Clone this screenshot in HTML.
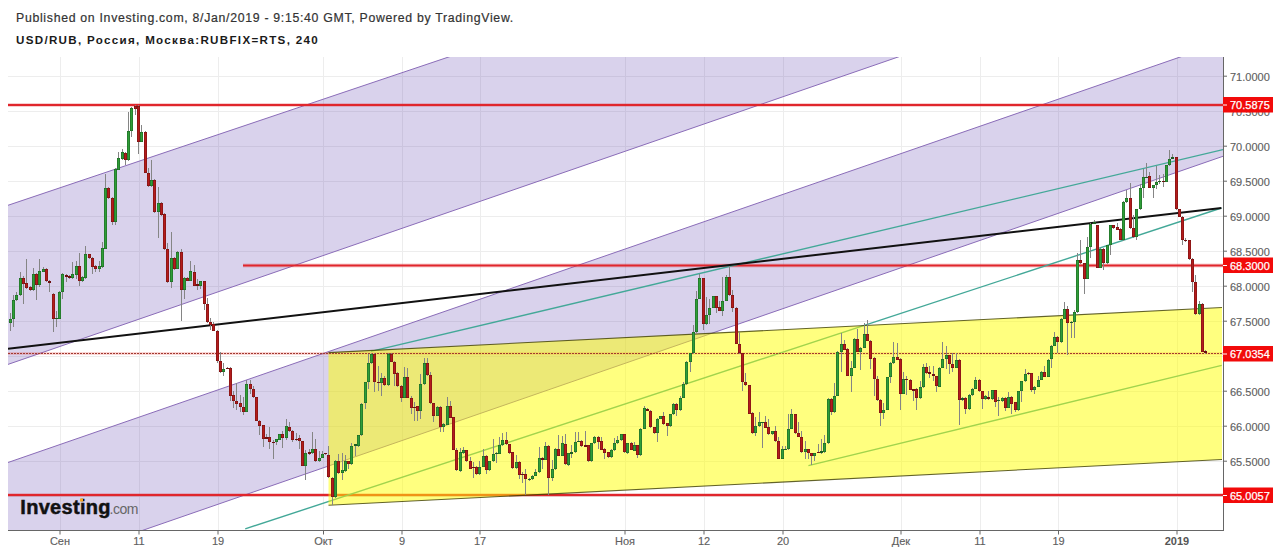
<!DOCTYPE html><html><head><meta charset="utf-8"><style>html,body{margin:0;padding:0;background:#fff;width:1280px;height:554px;overflow:hidden}svg{display:block}text{font-family:"Liberation Sans",sans-serif}</style></head><body>
<svg width="1280" height="554" viewBox="0 0 1280 554">
<rect width="1280" height="554" fill="#fff"/>
<text x="16" y="21.6" font-size="12.3" letter-spacing="0.69" fill="#333" stroke="#333" stroke-width="0.2">Published on Investing.com, 8/Jan/2019 - 9:15:40 GMT, Powered by TradingView.</text>
<text x="16" y="43.7" font-size="11.6" letter-spacing="1.31" font-weight="bold" fill="#1a1a1a">USD/RUB, Россия, Москва:RUBFIX=RTS, 240</text>
<defs><clipPath id="pc"><rect x="8" y="57" width="1215" height="473"/></clipPath></defs>
<g clip-path="url(#pc)">
<line x1="60.5" y1="57" x2="60.5" y2="530" stroke="#ededed" stroke-width="1"/>
<line x1="139.5" y1="57" x2="139.5" y2="530" stroke="#ededed" stroke-width="1"/>
<line x1="218.5" y1="57" x2="218.5" y2="530" stroke="#ededed" stroke-width="1"/>
<line x1="323.5" y1="57" x2="323.5" y2="530" stroke="#ededed" stroke-width="1"/>
<line x1="402.5" y1="57" x2="402.5" y2="530" stroke="#ededed" stroke-width="1"/>
<line x1="480.5" y1="57" x2="480.5" y2="530" stroke="#ededed" stroke-width="1"/>
<line x1="625.5" y1="57" x2="625.5" y2="530" stroke="#ededed" stroke-width="1"/>
<line x1="704.5" y1="57" x2="704.5" y2="530" stroke="#ededed" stroke-width="1"/>
<line x1="783.5" y1="57" x2="783.5" y2="530" stroke="#ededed" stroke-width="1"/>
<line x1="901.5" y1="57" x2="901.5" y2="530" stroke="#ededed" stroke-width="1"/>
<line x1="980.5" y1="57" x2="980.5" y2="530" stroke="#ededed" stroke-width="1"/>
<line x1="1058.5" y1="57" x2="1058.5" y2="530" stroke="#ededed" stroke-width="1"/>
<line x1="1177.5" y1="57" x2="1177.5" y2="530" stroke="#ededed" stroke-width="1"/>
<line x1="8" y1="76.5" x2="1223" y2="76.5" stroke="#ededed" stroke-width="1"/>
<line x1="8" y1="111.5" x2="1223" y2="111.5" stroke="#ededed" stroke-width="1"/>
<line x1="8" y1="146.5" x2="1223" y2="146.5" stroke="#ededed" stroke-width="1"/>
<line x1="8" y1="181.5" x2="1223" y2="181.5" stroke="#ededed" stroke-width="1"/>
<line x1="8" y1="216.5" x2="1223" y2="216.5" stroke="#ededed" stroke-width="1"/>
<line x1="8" y1="251.5" x2="1223" y2="251.5" stroke="#ededed" stroke-width="1"/>
<line x1="8" y1="286.5" x2="1223" y2="286.5" stroke="#ededed" stroke-width="1"/>
<line x1="8" y1="321.5" x2="1223" y2="321.5" stroke="#ededed" stroke-width="1"/>
<line x1="8" y1="356.5" x2="1223" y2="356.5" stroke="#ededed" stroke-width="1"/>
<line x1="8" y1="391.5" x2="1223" y2="391.5" stroke="#ededed" stroke-width="1"/>
<line x1="8" y1="426.5" x2="1223" y2="426.5" stroke="#ededed" stroke-width="1"/>
<line x1="8" y1="461.5" x2="1223" y2="461.5" stroke="#ededed" stroke-width="1"/>
<line x1="8" y1="496.5" x2="1223" y2="496.5" stroke="#ededed" stroke-width="1"/>
<polygon points="0.00,207.99 1280.00,-222.84 1280.00,-74.90 0.00,367.16" fill="rgba(102,76,178,0.25)"/>
<line x1="0" y1="207.99" x2="1280" y2="-222.84" stroke="#8a6cb8" stroke-width="1"/>
<line x1="0" y1="367.16" x2="1280" y2="-74.90" stroke="#8a6cb8" stroke-width="1"/>
<polygon points="0.00,465.27 1280.00,22.47 1280.00,136.54 0.00,579.75" fill="rgba(102,76,178,0.25)"/>
<line x1="0" y1="465.27" x2="1280" y2="22.47" stroke="#8a6cb8" stroke-width="1"/>
<line x1="0" y1="579.75" x2="1280" y2="136.54" stroke="#8a6cb8" stroke-width="1"/>
<line x1="8" y1="105" x2="1223" y2="105" stroke="rgba(224,38,44,0.22)" stroke-width="4"/>
<line x1="8" y1="105" x2="1223" y2="105" stroke="#e0262c" stroke-width="2"/>
<line x1="243" y1="265.5" x2="1223" y2="265.5" stroke="rgba(224,38,44,0.22)" stroke-width="4"/>
<line x1="243" y1="265.5" x2="1223" y2="265.5" stroke="#e0262c" stroke-width="2"/>
<line x1="8" y1="495" x2="1223" y2="495" stroke="rgba(224,38,44,0.22)" stroke-width="4"/>
<line x1="8" y1="495" x2="1223" y2="495" stroke="#e0262c" stroke-width="2"/>
<line x1="8" y1="353.5" x2="1223" y2="353.5" stroke="rgba(230,30,30,0.18)" stroke-width="3"/>
<line x1="371" y1="351.4" x2="1223" y2="149.6" stroke="#43a898" stroke-width="1.4"/>
<line x1="245.2" y1="528.9" x2="1221.4" y2="208" stroke="#43a898" stroke-width="1.4"/>
<line x1="808.4" y1="465.6" x2="1221.7" y2="365.4" stroke="#43a898" stroke-width="1.4"/>
<line x1="8" y1="348.7" x2="1221.4" y2="207.9" stroke="#111" stroke-width="2"/>
<polygon points="328.5,352.6 1222,307.5 1222,459.5 328.5,505.3" fill="rgba(255,255,0,0.5)"/>
<line x1="328.5" y1="352.6" x2="1222" y2="307.5" stroke="rgba(60,60,0,0.8)" stroke-width="1.1"/>
<line x1="328.5" y1="505.3" x2="1222" y2="459.5" stroke="rgba(60,60,0,0.8)" stroke-width="1.1"/>
<line x1="8" y1="353.5" x2="1223" y2="353.5" stroke="#a23a30" stroke-width="1" stroke-dasharray="2,1"/>
<g><rect x="10" y="313" width="1" height="18" fill="#858585"/><rect x="13" y="295" width="1" height="32" fill="#858585"/><rect x="16" y="292" width="1" height="9" fill="#858585"/><rect x="20" y="272" width="1" height="24" fill="#858585"/><rect x="23" y="276" width="1" height="28" fill="#858585"/><rect x="26" y="259" width="1" height="30" fill="#858585"/><rect x="30" y="286" width="1" height="5" fill="#858585"/><rect x="33" y="268" width="1" height="23" fill="#858585"/><rect x="36" y="273" width="1" height="27" fill="#858585"/><rect x="39" y="259" width="1" height="28" fill="#858585"/><rect x="43" y="267" width="1" height="5" fill="#858585"/><rect x="46" y="268" width="1" height="14" fill="#858585"/><rect x="49" y="280" width="1" height="12" fill="#858585"/><rect x="53" y="293" width="1" height="39" fill="#858585"/><rect x="56" y="311" width="1" height="16" fill="#858585"/><rect x="59" y="291" width="1" height="28" fill="#858585"/><rect x="62" y="273" width="1" height="26" fill="#858585"/><rect x="66" y="274" width="1" height="8" fill="#858585"/><rect x="69" y="275" width="1" height="4" fill="#858585"/><rect x="72" y="262" width="1" height="17" fill="#858585"/><rect x="76" y="261" width="1" height="18" fill="#858585"/><rect x="79" y="253" width="1" height="33" fill="#858585"/><rect x="82" y="276" width="1" height="6" fill="#858585"/><rect x="85" y="246" width="1" height="33" fill="#858585"/><rect x="89" y="254" width="1" height="5" fill="#858585"/><rect x="92" y="257" width="1" height="17" fill="#858585"/><rect x="95" y="265" width="1" height="7" fill="#858585"/><rect x="99" y="261" width="1" height="11" fill="#858585"/><rect x="102" y="242" width="1" height="26" fill="#858585"/><rect x="105" y="174" width="1" height="75" fill="#858585"/><rect x="108" y="187" width="1" height="12" fill="#858585"/><rect x="112" y="197" width="1" height="28" fill="#858585"/><rect x="115" y="168" width="1" height="57" fill="#858585"/><rect x="118" y="152" width="1" height="18" fill="#858585"/><rect x="122" y="149" width="1" height="11" fill="#858585"/><rect x="125" y="152" width="1" height="13" fill="#858585"/><rect x="128" y="112" width="1" height="49" fill="#858585"/><rect x="131" y="107" width="1" height="30" fill="#858585"/><rect x="135" y="105" width="1" height="10" fill="#858585"/><rect x="138" y="105" width="1" height="49" fill="#858585"/><rect x="141" y="125" width="1" height="17" fill="#858585"/><rect x="145" y="131" width="1" height="42" fill="#858585"/><rect x="148" y="168" width="1" height="19" fill="#858585"/><rect x="151" y="160" width="1" height="27" fill="#858585"/><rect x="154" y="179" width="1" height="34" fill="#858585"/><rect x="158" y="187" width="1" height="51" fill="#858585"/><rect x="161" y="202" width="1" height="14" fill="#858585"/><rect x="164" y="213" width="1" height="37" fill="#858585"/><rect x="167" y="243" width="1" height="40" fill="#858585"/><rect x="171" y="232" width="1" height="56" fill="#858585"/><rect x="174" y="257" width="1" height="13" fill="#858585"/><rect x="177" y="251" width="1" height="18" fill="#858585"/><rect x="181" y="249" width="1" height="72" fill="#858585"/><rect x="184" y="277" width="1" height="22" fill="#858585"/><rect x="187" y="277" width="1" height="4" fill="#858585"/><rect x="190" y="261" width="1" height="20" fill="#858585"/><rect x="194" y="265" width="1" height="21" fill="#858585"/><rect x="197" y="279" width="1" height="11" fill="#858585"/><rect x="200" y="281" width="1" height="8" fill="#858585"/><rect x="204" y="281" width="1" height="29" fill="#858585"/><rect x="207" y="298" width="1" height="25" fill="#858585"/><rect x="210" y="318" width="1" height="12" fill="#858585"/><rect x="213" y="322" width="1" height="9" fill="#858585"/><rect x="217" y="330" width="1" height="33" fill="#858585"/><rect x="220" y="352" width="1" height="21" fill="#858585"/><rect x="223" y="363" width="1" height="13" fill="#858585"/><rect x="227" y="367" width="1" height="2" fill="#858585"/><rect x="230" y="367" width="1" height="34" fill="#858585"/><rect x="233" y="391" width="1" height="17" fill="#858585"/><rect x="236" y="383" width="1" height="27" fill="#858585"/><rect x="240" y="395" width="1" height="17" fill="#858585"/><rect x="243" y="397" width="1" height="18" fill="#858585"/><rect x="246" y="380" width="1" height="32" fill="#858585"/><rect x="250" y="380" width="1" height="14" fill="#858585"/><rect x="253" y="386" width="1" height="12" fill="#858585"/><rect x="259" y="420" width="1" height="15" fill="#858585"/><rect x="263" y="425" width="1" height="22" fill="#858585"/><rect x="266" y="434" width="1" height="5" fill="#858585"/><rect x="269" y="427" width="1" height="22" fill="#858585"/><rect x="273" y="440" width="1" height="19" fill="#858585"/><rect x="276" y="439" width="1" height="6" fill="#858585"/><rect x="282" y="431" width="1" height="17" fill="#858585"/><rect x="286" y="419" width="1" height="21" fill="#858585"/><rect x="289" y="422" width="1" height="10" fill="#858585"/><rect x="292" y="430" width="1" height="12" fill="#858585"/><rect x="296" y="433" width="1" height="8" fill="#858585"/><rect x="299" y="435" width="1" height="14" fill="#858585"/><rect x="305" y="450" width="1" height="30" fill="#858585"/><rect x="309" y="449" width="1" height="6" fill="#858585"/><rect x="312" y="432" width="1" height="22" fill="#858585"/><rect x="315" y="439" width="1" height="23" fill="#858585"/><rect x="319" y="451" width="1" height="11" fill="#858585"/><rect x="322" y="451" width="1" height="7" fill="#858585"/><rect x="325" y="453" width="1" height="2" fill="#858585"/><rect x="328" y="446" width="1" height="32" fill="#858585"/><rect x="332" y="477" width="1" height="28" fill="#858585"/><rect x="335" y="460" width="1" height="38" fill="#858585"/><rect x="338" y="454" width="1" height="20" fill="#858585"/><rect x="342" y="453" width="1" height="27" fill="#858585"/><rect x="345" y="455" width="1" height="17" fill="#858585"/><rect x="348" y="461" width="1" height="8" fill="#858585"/><rect x="351" y="443" width="1" height="22" fill="#858585"/><rect x="355" y="444" width="1" height="12" fill="#858585"/><rect x="358" y="435" width="1" height="12" fill="#858585"/><rect x="361" y="403" width="1" height="33" fill="#858585"/><rect x="365" y="382" width="1" height="27" fill="#858585"/><rect x="368" y="354" width="1" height="35" fill="#858585"/><rect x="371" y="353" width="1" height="11" fill="#858585"/><rect x="374" y="353" width="1" height="39" fill="#858585"/><rect x="378" y="366" width="1" height="25" fill="#858585"/><rect x="381" y="373" width="1" height="23" fill="#858585"/><rect x="384" y="376" width="1" height="10" fill="#858585"/><rect x="388" y="353" width="1" height="33" fill="#858585"/><rect x="391" y="353" width="1" height="9" fill="#858585"/><rect x="394" y="361" width="1" height="25" fill="#858585"/><rect x="397" y="372" width="1" height="15" fill="#858585"/><rect x="401" y="385" width="1" height="17" fill="#858585"/><rect x="404" y="367" width="1" height="31" fill="#858585"/><rect x="407" y="368" width="1" height="30" fill="#858585"/><rect x="411" y="396" width="1" height="18" fill="#858585"/><rect x="414" y="402" width="1" height="19" fill="#858585"/><rect x="417" y="406" width="1" height="15" fill="#858585"/><rect x="420" y="374" width="1" height="45" fill="#858585"/><rect x="424" y="358" width="1" height="27" fill="#858585"/><rect x="427" y="358" width="1" height="18" fill="#858585"/><rect x="430" y="372" width="1" height="32" fill="#858585"/><rect x="433" y="403" width="1" height="19" fill="#858585"/><rect x="437" y="406" width="1" height="10" fill="#858585"/><rect x="440" y="406" width="1" height="26" fill="#858585"/><rect x="443" y="423" width="1" height="9" fill="#858585"/><rect x="447" y="397" width="1" height="28" fill="#858585"/><rect x="450" y="401" width="1" height="17" fill="#858585"/><rect x="456" y="448" width="1" height="23" fill="#858585"/><rect x="460" y="448" width="1" height="24" fill="#858585"/><rect x="463" y="447" width="1" height="7" fill="#858585"/><rect x="466" y="450" width="1" height="12" fill="#858585"/><rect x="470" y="457" width="1" height="12" fill="#858585"/><rect x="473" y="462" width="1" height="16" fill="#858585"/><rect x="476" y="466" width="1" height="9" fill="#858585"/><rect x="479" y="461" width="1" height="14" fill="#858585"/><rect x="483" y="449" width="1" height="18" fill="#858585"/><rect x="486" y="455" width="1" height="19" fill="#858585"/><rect x="489" y="461" width="1" height="10" fill="#858585"/><rect x="493" y="439" width="1" height="23" fill="#858585"/><rect x="496" y="452" width="1" height="11" fill="#858585"/><rect x="499" y="437" width="1" height="17" fill="#858585"/><rect x="502" y="433" width="1" height="13" fill="#858585"/><rect x="506" y="432" width="1" height="13" fill="#858585"/><rect x="509" y="444" width="1" height="10" fill="#858585"/><rect x="512" y="452" width="1" height="17" fill="#858585"/><rect x="516" y="455" width="1" height="14" fill="#858585"/><rect x="519" y="461" width="1" height="18" fill="#858585"/><rect x="522" y="472" width="1" height="11" fill="#858585"/><rect x="525" y="469" width="1" height="26" fill="#858585"/><rect x="529" y="478" width="1" height="3" fill="#858585"/><rect x="532" y="475" width="1" height="5" fill="#858585"/><rect x="535" y="469" width="1" height="7" fill="#858585"/><rect x="539" y="447" width="1" height="26" fill="#858585"/><rect x="542" y="457" width="1" height="12" fill="#858585"/><rect x="545" y="442" width="1" height="18" fill="#858585"/><rect x="548" y="445" width="1" height="50" fill="#858585"/><rect x="552" y="460" width="1" height="21" fill="#858585"/><rect x="555" y="448" width="1" height="22" fill="#858585"/><rect x="558" y="435" width="1" height="21" fill="#858585"/><rect x="562" y="436" width="1" height="20" fill="#858585"/><rect x="565" y="434" width="1" height="31" fill="#858585"/><rect x="568" y="453" width="1" height="13" fill="#858585"/><rect x="571" y="445" width="1" height="13" fill="#858585"/><rect x="575" y="432" width="1" height="21" fill="#858585"/><rect x="578" y="432" width="1" height="10" fill="#858585"/><rect x="581" y="440" width="1" height="7" fill="#858585"/><rect x="585" y="431" width="1" height="16" fill="#858585"/><rect x="588" y="445" width="1" height="17" fill="#858585"/><rect x="591" y="443" width="1" height="19" fill="#858585"/><rect x="594" y="436" width="1" height="8" fill="#858585"/><rect x="598" y="436" width="1" height="13" fill="#858585"/><rect x="601" y="437" width="1" height="13" fill="#858585"/><rect x="604" y="448" width="1" height="11" fill="#858585"/><rect x="608" y="452" width="1" height="6" fill="#858585"/><rect x="611" y="449" width="1" height="9" fill="#858585"/><rect x="614" y="438" width="1" height="13" fill="#858585"/><rect x="617" y="436" width="1" height="8" fill="#858585"/><rect x="621" y="434" width="1" height="7" fill="#858585"/><rect x="624" y="434" width="1" height="19" fill="#858585"/><rect x="627" y="443" width="1" height="11" fill="#858585"/><rect x="631" y="442" width="1" height="8" fill="#858585"/><rect x="634" y="442" width="1" height="9" fill="#858585"/><rect x="637" y="445" width="1" height="13" fill="#858585"/><rect x="640" y="428" width="1" height="28" fill="#858585"/><rect x="644" y="406" width="1" height="23" fill="#858585"/><rect x="647" y="408" width="1" height="3" fill="#858585"/><rect x="650" y="410" width="1" height="18" fill="#858585"/><rect x="654" y="427" width="1" height="7" fill="#858585"/><rect x="657" y="418" width="1" height="24" fill="#858585"/><rect x="663" y="412" width="1" height="13" fill="#858585"/><rect x="667" y="423" width="1" height="13" fill="#858585"/><rect x="670" y="414" width="1" height="13" fill="#858585"/><rect x="673" y="403" width="1" height="12" fill="#858585"/><rect x="676" y="403" width="1" height="13" fill="#858585"/><rect x="680" y="396" width="1" height="15" fill="#858585"/><rect x="683" y="382" width="1" height="16" fill="#858585"/><rect x="686" y="361" width="1" height="24" fill="#858585"/><rect x="690" y="353" width="1" height="19" fill="#858585"/><rect x="693" y="325" width="1" height="29" fill="#858585"/><rect x="696" y="291" width="1" height="42" fill="#858585"/><rect x="699" y="274" width="1" height="25" fill="#858585"/><rect x="703" y="278" width="1" height="52" fill="#858585"/><rect x="706" y="297" width="1" height="28" fill="#858585"/><rect x="709" y="299" width="1" height="25" fill="#858585"/><rect x="716" y="296" width="1" height="17" fill="#858585"/><rect x="719" y="301" width="1" height="10" fill="#858585"/><rect x="722" y="277" width="1" height="39" fill="#858585"/><rect x="726" y="275" width="1" height="26" fill="#858585"/><rect x="729" y="266" width="1" height="30" fill="#858585"/><rect x="732" y="290" width="1" height="22" fill="#858585"/><rect x="736" y="307" width="1" height="37" fill="#858585"/><rect x="739" y="332" width="1" height="22" fill="#858585"/><rect x="742" y="353" width="1" height="38" fill="#858585"/><rect x="745" y="373" width="1" height="13" fill="#858585"/><rect x="752" y="412" width="1" height="22" fill="#858585"/><rect x="755" y="417" width="1" height="19" fill="#858585"/><rect x="759" y="412" width="1" height="15" fill="#858585"/><rect x="762" y="422" width="1" height="26" fill="#858585"/><rect x="765" y="416" width="1" height="12" fill="#858585"/><rect x="768" y="419" width="1" height="16" fill="#858585"/><rect x="772" y="431" width="1" height="4" fill="#858585"/><rect x="775" y="426" width="1" height="16" fill="#858585"/><rect x="778" y="437" width="1" height="22" fill="#858585"/><rect x="782" y="446" width="1" height="13" fill="#858585"/><rect x="785" y="446" width="1" height="4" fill="#858585"/><rect x="788" y="414" width="1" height="36" fill="#858585"/><rect x="791" y="409" width="1" height="20" fill="#858585"/><rect x="795" y="414" width="1" height="20" fill="#858585"/><rect x="798" y="422" width="1" height="15" fill="#858585"/><rect x="801" y="431" width="1" height="22" fill="#858585"/><rect x="805" y="441" width="1" height="18" fill="#858585"/><rect x="808" y="449" width="1" height="10" fill="#858585"/><rect x="811" y="453" width="1" height="12" fill="#858585"/><rect x="814" y="453" width="1" height="8" fill="#858585"/><rect x="818" y="444" width="1" height="9" fill="#858585"/><rect x="821" y="439" width="1" height="15" fill="#858585"/><rect x="824" y="435" width="1" height="18" fill="#858585"/><rect x="828" y="398" width="1" height="46" fill="#858585"/><rect x="831" y="398" width="1" height="17" fill="#858585"/><rect x="834" y="383" width="1" height="30" fill="#858585"/><rect x="837" y="351" width="1" height="45" fill="#858585"/><rect x="841" y="333" width="1" height="39" fill="#858585"/><rect x="844" y="340" width="1" height="10" fill="#858585"/><rect x="847" y="348" width="1" height="28" fill="#858585"/><rect x="851" y="361" width="1" height="31" fill="#858585"/><rect x="854" y="338" width="1" height="30" fill="#858585"/><rect x="857" y="329" width="1" height="23" fill="#858585"/><rect x="860" y="347" width="1" height="23" fill="#858585"/><rect x="864" y="323" width="1" height="25" fill="#858585"/><rect x="867" y="320" width="1" height="21" fill="#858585"/><rect x="870" y="340" width="1" height="29" fill="#858585"/><rect x="874" y="357" width="1" height="39" fill="#858585"/><rect x="877" y="376" width="1" height="25" fill="#858585"/><rect x="880" y="399" width="1" height="27" fill="#858585"/><rect x="883" y="403" width="1" height="16" fill="#858585"/><rect x="890" y="362" width="1" height="21" fill="#858585"/><rect x="893" y="342" width="1" height="22" fill="#858585"/><rect x="897" y="343" width="1" height="17" fill="#858585"/><rect x="900" y="358" width="1" height="52" fill="#858585"/><rect x="903" y="372" width="1" height="22" fill="#858585"/><rect x="906" y="376" width="1" height="19" fill="#858585"/><rect x="910" y="379" width="1" height="11" fill="#858585"/><rect x="913" y="389" width="1" height="12" fill="#858585"/><rect x="916" y="388" width="1" height="22" fill="#858585"/><rect x="920" y="381" width="1" height="18" fill="#858585"/><rect x="923" y="364" width="1" height="24" fill="#858585"/><rect x="926" y="363" width="1" height="11" fill="#858585"/><rect x="929" y="366" width="1" height="12" fill="#858585"/><rect x="933" y="366" width="1" height="15" fill="#858585"/><rect x="936" y="376" width="1" height="16" fill="#858585"/><rect x="939" y="367" width="1" height="20" fill="#858585"/><rect x="942" y="342" width="1" height="26" fill="#858585"/><rect x="946" y="346" width="1" height="23" fill="#858585"/><rect x="949" y="355" width="1" height="19" fill="#858585"/><rect x="952" y="353" width="1" height="19" fill="#858585"/><rect x="956" y="353" width="1" height="15" fill="#858585"/><rect x="959" y="359" width="1" height="66" fill="#858585"/><rect x="962" y="397" width="1" height="4" fill="#858585"/><rect x="965" y="397" width="1" height="17" fill="#858585"/><rect x="969" y="394" width="1" height="16" fill="#858585"/><rect x="972" y="388" width="1" height="8" fill="#858585"/><rect x="975" y="377" width="1" height="12" fill="#858585"/><rect x="979" y="379" width="1" height="13" fill="#858585"/><rect x="982" y="391" width="1" height="18" fill="#858585"/><rect x="985" y="395" width="1" height="5" fill="#858585"/><rect x="988" y="391" width="1" height="9" fill="#858585"/><rect x="992" y="390" width="1" height="10" fill="#858585"/><rect x="995" y="390" width="1" height="17" fill="#858585"/><rect x="998" y="397" width="1" height="19" fill="#858585"/><rect x="1002" y="397" width="1" height="5" fill="#858585"/><rect x="1005" y="397" width="1" height="14" fill="#858585"/><rect x="1008" y="392" width="1" height="16" fill="#858585"/><rect x="1011" y="396" width="1" height="18" fill="#858585"/><rect x="1015" y="402" width="1" height="10" fill="#858585"/><rect x="1018" y="391" width="1" height="20" fill="#858585"/><rect x="1021" y="381" width="1" height="21" fill="#858585"/><rect x="1025" y="369" width="1" height="13" fill="#858585"/><rect x="1028" y="372" width="1" height="3" fill="#858585"/><rect x="1031" y="373" width="1" height="19" fill="#858585"/><rect x="1034" y="386" width="1" height="8" fill="#858585"/><rect x="1038" y="376" width="1" height="11" fill="#858585"/><rect x="1041" y="371" width="1" height="9" fill="#858585"/><rect x="1044" y="366" width="1" height="11" fill="#858585"/><rect x="1048" y="359" width="1" height="18" fill="#858585"/><rect x="1051" y="345" width="1" height="23" fill="#858585"/><rect x="1054" y="332" width="1" height="14" fill="#858585"/><rect x="1057" y="336" width="1" height="17" fill="#858585"/><rect x="1061" y="318" width="1" height="25" fill="#858585"/><rect x="1064" y="302" width="1" height="17" fill="#858585"/><rect x="1067" y="306" width="1" height="49" fill="#858585"/><rect x="1071" y="321" width="1" height="17" fill="#858585"/><rect x="1074" y="310" width="1" height="28" fill="#858585"/><rect x="1077" y="253" width="1" height="60" fill="#858585"/><rect x="1080" y="240" width="1" height="24" fill="#858585"/><rect x="1084" y="263" width="1" height="31" fill="#858585"/><rect x="1087" y="237" width="1" height="42" fill="#858585"/><rect x="1090" y="223" width="1" height="35" fill="#858585"/><rect x="1094" y="220" width="1" height="4" fill="#858585"/><rect x="1100" y="248" width="1" height="20" fill="#858585"/><rect x="1103" y="248" width="1" height="22" fill="#858585"/><rect x="1107" y="245" width="1" height="19" fill="#858585"/><rect x="1110" y="225" width="1" height="30" fill="#858585"/><rect x="1113" y="225" width="1" height="4" fill="#858585"/><rect x="1117" y="223" width="1" height="7" fill="#858585"/><rect x="1120" y="228" width="1" height="12" fill="#858585"/><rect x="1123" y="201" width="1" height="40" fill="#858585"/><rect x="1126" y="190" width="1" height="13" fill="#858585"/><rect x="1130" y="183" width="1" height="46" fill="#858585"/><rect x="1133" y="215" width="1" height="23" fill="#858585"/><rect x="1136" y="209" width="1" height="31" fill="#858585"/><rect x="1140" y="184" width="1" height="26" fill="#858585"/><rect x="1143" y="169" width="1" height="29" fill="#858585"/><rect x="1146" y="163" width="1" height="15" fill="#858585"/><rect x="1149" y="172" width="1" height="16" fill="#858585"/><rect x="1153" y="185" width="1" height="13" fill="#858585"/><rect x="1156" y="166" width="1" height="23" fill="#858585"/><rect x="1159" y="175" width="1" height="9" fill="#858585"/><rect x="1163" y="174" width="1" height="13" fill="#858585"/><rect x="1169" y="150" width="1" height="16" fill="#858585"/><rect x="1172" y="154" width="1" height="5" fill="#858585"/><rect x="1176" y="157" width="1" height="53" fill="#858585"/><rect x="1182" y="216" width="1" height="29" fill="#858585"/><rect x="1185" y="238" width="1" height="4" fill="#858585"/><rect x="1189" y="240" width="1" height="20" fill="#858585"/><rect x="1192" y="258" width="1" height="34" fill="#858585"/><rect x="1195" y="275" width="1" height="40" fill="#858585"/><rect x="1199" y="301" width="1" height="14" fill="#858585"/><rect x="1202" y="303" width="1" height="49" fill="#858585"/><rect x="1205" y="350" width="1" height="4" fill="#858585"/><rect x="9" y="319" width="3" height="4" fill="#1d5e22"/><rect x="9.5" y="319.5" width="2" height="3" fill="#2f9e38"/><rect x="12" y="300" width="3" height="19" fill="#1d5e22"/><rect x="12.5" y="300.5" width="2" height="18" fill="#2f9e38"/><rect x="15" y="295" width="3" height="5" fill="#1d5e22"/><rect x="15.5" y="295.5" width="2" height="4" fill="#2f9e38"/><rect x="19" y="278" width="3" height="17" fill="#1d5e22"/><rect x="19.5" y="278.5" width="2" height="16" fill="#2f9e38"/><rect x="22" y="278" width="3" height="6" fill="#6e1010"/><rect x="22.5" y="278.5" width="2" height="5" fill="#b41c1c"/><rect x="25" y="283" width="3" height="5" fill="#6e1010"/><rect x="25.5" y="283.5" width="2" height="4" fill="#b41c1c"/><rect x="29" y="287" width="3" height="3" fill="#6e1010"/><rect x="29.5" y="287.5" width="2" height="2" fill="#b41c1c"/><rect x="32" y="274" width="3" height="16" fill="#1d5e22"/><rect x="32.5" y="274.5" width="2" height="15" fill="#2f9e38"/><rect x="35" y="274" width="3" height="11" fill="#6e1010"/><rect x="35.5" y="274.5" width="2" height="10" fill="#b41c1c"/><rect x="38" y="271" width="3" height="14" fill="#1d5e22"/><rect x="38.5" y="271.5" width="2" height="13" fill="#2f9e38"/><rect x="42" y="269" width="3" height="3" fill="#1d5e22"/><rect x="42.5" y="269.5" width="2" height="2" fill="#2f9e38"/><rect x="45" y="269" width="3" height="12" fill="#6e1010"/><rect x="45.5" y="269.5" width="2" height="11" fill="#b41c1c"/><rect x="48" y="281" width="3" height="2" fill="#6e1010"/><rect x="52" y="294" width="3" height="25" fill="#6e1010"/><rect x="52.5" y="294.5" width="2" height="24" fill="#b41c1c"/><rect x="55" y="318" width="3" height="1" fill="#1d5e22"/><rect x="58" y="292" width="3" height="27" fill="#1d5e22"/><rect x="58.5" y="292.5" width="2" height="26" fill="#2f9e38"/><rect x="61" y="274" width="3" height="18" fill="#1d5e22"/><rect x="61.5" y="274.5" width="2" height="17" fill="#2f9e38"/><rect x="65" y="275" width="3" height="2" fill="#6e1010"/><rect x="68" y="276" width="3" height="2" fill="#6e1010"/><rect x="71" y="274" width="3" height="4" fill="#1d5e22"/><rect x="71.5" y="274.5" width="2" height="3" fill="#2f9e38"/><rect x="75" y="266" width="3" height="9" fill="#1d5e22"/><rect x="75.5" y="266.5" width="2" height="8" fill="#2f9e38"/><rect x="78" y="266" width="3" height="15" fill="#6e1010"/><rect x="78.5" y="266.5" width="2" height="14" fill="#b41c1c"/><rect x="81" y="277" width="3" height="4" fill="#1d5e22"/><rect x="81.5" y="277.5" width="2" height="3" fill="#2f9e38"/><rect x="84" y="254" width="3" height="24" fill="#1d5e22"/><rect x="84.5" y="254.5" width="2" height="23" fill="#2f9e38"/><rect x="88" y="254" width="3" height="4" fill="#6e1010"/><rect x="88.5" y="254.5" width="2" height="3" fill="#b41c1c"/><rect x="91" y="258" width="3" height="9" fill="#6e1010"/><rect x="91.5" y="258.5" width="2" height="8" fill="#b41c1c"/><rect x="94" y="266" width="3" height="3" fill="#6e1010"/><rect x="94.5" y="266.5" width="2" height="2" fill="#b41c1c"/><rect x="98" y="266" width="3" height="3" fill="#1d5e22"/><rect x="98.5" y="266.5" width="2" height="2" fill="#2f9e38"/><rect x="101" y="248" width="3" height="19" fill="#1d5e22"/><rect x="101.5" y="248.5" width="2" height="18" fill="#2f9e38"/><rect x="104" y="188" width="3" height="61" fill="#1d5e22"/><rect x="104.5" y="188.5" width="2" height="60" fill="#2f9e38"/><rect x="107" y="188" width="3" height="10" fill="#6e1010"/><rect x="107.5" y="188.5" width="2" height="9" fill="#b41c1c"/><rect x="111" y="198" width="3" height="24" fill="#6e1010"/><rect x="111.5" y="198.5" width="2" height="23" fill="#b41c1c"/><rect x="114" y="169" width="3" height="53" fill="#1d5e22"/><rect x="114.5" y="169.5" width="2" height="52" fill="#2f9e38"/><rect x="117" y="158" width="3" height="12" fill="#1d5e22"/><rect x="117.5" y="158.5" width="2" height="11" fill="#2f9e38"/><rect x="121" y="152" width="3" height="7" fill="#1d5e22"/><rect x="121.5" y="152.5" width="2" height="6" fill="#2f9e38"/><rect x="124" y="153" width="3" height="7" fill="#6e1010"/><rect x="124.5" y="153.5" width="2" height="6" fill="#b41c1c"/><rect x="127" y="131" width="3" height="29" fill="#1d5e22"/><rect x="127.5" y="131.5" width="2" height="28" fill="#2f9e38"/><rect x="130" y="108" width="3" height="23" fill="#1d5e22"/><rect x="130.5" y="108.5" width="2" height="22" fill="#2f9e38"/><rect x="134" y="106" width="3" height="3" fill="#6e1010"/><rect x="134.5" y="106.5" width="2" height="2" fill="#b41c1c"/><rect x="137" y="106" width="3" height="36" fill="#6e1010"/><rect x="137.5" y="106.5" width="2" height="35" fill="#b41c1c"/><rect x="140" y="132" width="3" height="10" fill="#1d5e22"/><rect x="140.5" y="132.5" width="2" height="9" fill="#2f9e38"/><rect x="144" y="132" width="3" height="41" fill="#6e1010"/><rect x="144.5" y="132.5" width="2" height="40" fill="#b41c1c"/><rect x="147" y="173" width="3" height="13" fill="#6e1010"/><rect x="147.5" y="173.5" width="2" height="12" fill="#b41c1c"/><rect x="150" y="180" width="3" height="6" fill="#1d5e22"/><rect x="150.5" y="180.5" width="2" height="5" fill="#2f9e38"/><rect x="153" y="180" width="3" height="32" fill="#6e1010"/><rect x="153.5" y="180.5" width="2" height="31" fill="#b41c1c"/><rect x="157" y="203" width="3" height="9" fill="#1d5e22"/><rect x="157.5" y="203.5" width="2" height="8" fill="#2f9e38"/><rect x="160" y="203" width="3" height="12" fill="#6e1010"/><rect x="160.5" y="203.5" width="2" height="11" fill="#b41c1c"/><rect x="163" y="214" width="3" height="35" fill="#6e1010"/><rect x="163.5" y="214.5" width="2" height="34" fill="#b41c1c"/><rect x="166" y="249" width="3" height="33" fill="#6e1010"/><rect x="166.5" y="249.5" width="2" height="32" fill="#b41c1c"/><rect x="170" y="258" width="3" height="24" fill="#1d5e22"/><rect x="170.5" y="258.5" width="2" height="23" fill="#2f9e38"/><rect x="173" y="258" width="3" height="11" fill="#6e1010"/><rect x="173.5" y="258.5" width="2" height="10" fill="#b41c1c"/><rect x="176" y="252" width="3" height="17" fill="#1d5e22"/><rect x="176.5" y="252.5" width="2" height="16" fill="#2f9e38"/><rect x="180" y="252" width="3" height="38" fill="#6e1010"/><rect x="180.5" y="252.5" width="2" height="37" fill="#b41c1c"/><rect x="183" y="278" width="3" height="12" fill="#1d5e22"/><rect x="183.5" y="278.5" width="2" height="11" fill="#2f9e38"/><rect x="186" y="278" width="3" height="3" fill="#6e1010"/><rect x="186.5" y="278.5" width="2" height="2" fill="#b41c1c"/><rect x="189" y="271" width="3" height="10" fill="#1d5e22"/><rect x="189.5" y="271.5" width="2" height="9" fill="#2f9e38"/><rect x="193" y="272" width="3" height="14" fill="#6e1010"/><rect x="193.5" y="272.5" width="2" height="13" fill="#b41c1c"/><rect x="196" y="284" width="3" height="2" fill="#6e1010"/><rect x="199" y="281" width="3" height="5" fill="#1d5e22"/><rect x="199.5" y="281.5" width="2" height="4" fill="#2f9e38"/><rect x="203" y="281" width="3" height="23" fill="#6e1010"/><rect x="203.5" y="281.5" width="2" height="22" fill="#b41c1c"/><rect x="206" y="304" width="3" height="18" fill="#6e1010"/><rect x="206.5" y="304.5" width="2" height="17" fill="#b41c1c"/><rect x="209" y="322" width="3" height="3" fill="#6e1010"/><rect x="209.5" y="322.5" width="2" height="2" fill="#b41c1c"/><rect x="212" y="324" width="3" height="7" fill="#6e1010"/><rect x="212.5" y="324.5" width="2" height="6" fill="#b41c1c"/><rect x="216" y="331" width="3" height="30" fill="#6e1010"/><rect x="216.5" y="331.5" width="2" height="29" fill="#b41c1c"/><rect x="219" y="361" width="3" height="11" fill="#6e1010"/><rect x="219.5" y="361.5" width="2" height="10" fill="#b41c1c"/><rect x="222" y="369" width="3" height="3" fill="#1d5e22"/><rect x="222.5" y="369.5" width="2" height="2" fill="#2f9e38"/><rect x="226" y="368" width="3" height="1" fill="#6e1010"/><rect x="229" y="368" width="3" height="28" fill="#6e1010"/><rect x="229.5" y="368.5" width="2" height="27" fill="#b41c1c"/><rect x="232" y="395" width="3" height="6" fill="#6e1010"/><rect x="232.5" y="395.5" width="2" height="5" fill="#b41c1c"/><rect x="235" y="401" width="3" height="3" fill="#6e1010"/><rect x="235.5" y="401.5" width="2" height="2" fill="#b41c1c"/><rect x="239" y="403" width="3" height="4" fill="#6e1010"/><rect x="239.5" y="403.5" width="2" height="3" fill="#b41c1c"/><rect x="242" y="407" width="3" height="5" fill="#6e1010"/><rect x="242.5" y="407.5" width="2" height="4" fill="#b41c1c"/><rect x="245" y="384" width="3" height="28" fill="#1d5e22"/><rect x="245.5" y="384.5" width="2" height="27" fill="#2f9e38"/><rect x="249" y="384" width="3" height="5" fill="#6e1010"/><rect x="249.5" y="384.5" width="2" height="4" fill="#b41c1c"/><rect x="252" y="389" width="3" height="8" fill="#6e1010"/><rect x="252.5" y="389.5" width="2" height="7" fill="#b41c1c"/><rect x="255" y="397" width="3" height="24" fill="#6e1010"/><rect x="255.5" y="397.5" width="2" height="23" fill="#b41c1c"/><rect x="258" y="421" width="3" height="5" fill="#6e1010"/><rect x="258.5" y="421.5" width="2" height="4" fill="#b41c1c"/><rect x="262" y="425" width="3" height="14" fill="#6e1010"/><rect x="262.5" y="425.5" width="2" height="13" fill="#b41c1c"/><rect x="265" y="437" width="3" height="2" fill="#6e1010"/><rect x="268" y="437" width="3" height="5" fill="#6e1010"/><rect x="268.5" y="437.5" width="2" height="4" fill="#b41c1c"/><rect x="272" y="442" width="3" height="1" fill="#6e1010"/><rect x="275" y="439" width="3" height="3" fill="#1d5e22"/><rect x="275.5" y="439.5" width="2" height="2" fill="#2f9e38"/><rect x="278" y="434" width="3" height="6" fill="#1d5e22"/><rect x="278.5" y="434.5" width="2" height="5" fill="#2f9e38"/><rect x="281" y="434" width="3" height="4" fill="#6e1010"/><rect x="281.5" y="434.5" width="2" height="3" fill="#b41c1c"/><rect x="285" y="426" width="3" height="12" fill="#1d5e22"/><rect x="285.5" y="426.5" width="2" height="11" fill="#2f9e38"/><rect x="288" y="427" width="3" height="4" fill="#6e1010"/><rect x="288.5" y="427.5" width="2" height="3" fill="#b41c1c"/><rect x="291" y="431" width="3" height="9" fill="#6e1010"/><rect x="291.5" y="431.5" width="2" height="8" fill="#b41c1c"/><rect x="295" y="439" width="3" height="1" fill="#6e1010"/><rect x="298" y="438" width="3" height="3" fill="#6e1010"/><rect x="298.5" y="438.5" width="2" height="2" fill="#b41c1c"/><rect x="301" y="441" width="3" height="25" fill="#6e1010"/><rect x="301.5" y="441.5" width="2" height="24" fill="#b41c1c"/><rect x="304" y="453" width="3" height="13" fill="#1d5e22"/><rect x="304.5" y="453.5" width="2" height="12" fill="#2f9e38"/><rect x="308" y="452" width="3" height="2" fill="#6e1010"/><rect x="311" y="449" width="3" height="4" fill="#1d5e22"/><rect x="311.5" y="449.5" width="2" height="3" fill="#2f9e38"/><rect x="314" y="449" width="3" height="12" fill="#6e1010"/><rect x="314.5" y="449.5" width="2" height="11" fill="#b41c1c"/><rect x="318" y="458" width="3" height="3" fill="#1d5e22"/><rect x="318.5" y="458.5" width="2" height="2" fill="#2f9e38"/><rect x="321" y="454" width="3" height="4" fill="#1d5e22"/><rect x="321.5" y="454.5" width="2" height="3" fill="#2f9e38"/><rect x="324" y="453" width="3" height="1" fill="#6e1010"/><rect x="327" y="455" width="3" height="22" fill="#6e1010"/><rect x="327.5" y="455.5" width="2" height="21" fill="#b41c1c"/><rect x="331" y="478" width="3" height="19" fill="#6e1010"/><rect x="331.5" y="478.5" width="2" height="18" fill="#b41c1c"/><rect x="334" y="461" width="3" height="36" fill="#1d5e22"/><rect x="334.5" y="461.5" width="2" height="35" fill="#2f9e38"/><rect x="337" y="461" width="3" height="12" fill="#6e1010"/><rect x="337.5" y="461.5" width="2" height="11" fill="#b41c1c"/><rect x="341" y="470" width="3" height="3" fill="#1d5e22"/><rect x="341.5" y="470.5" width="2" height="2" fill="#2f9e38"/><rect x="344" y="461" width="3" height="10" fill="#1d5e22"/><rect x="344.5" y="461.5" width="2" height="9" fill="#2f9e38"/><rect x="347" y="461" width="3" height="3" fill="#6e1010"/><rect x="347.5" y="461.5" width="2" height="2" fill="#b41c1c"/><rect x="350" y="446" width="3" height="18" fill="#1d5e22"/><rect x="350.5" y="446.5" width="2" height="17" fill="#2f9e38"/><rect x="354" y="444" width="3" height="2" fill="#1d5e22"/><rect x="357" y="435" width="3" height="11" fill="#1d5e22"/><rect x="357.5" y="435.5" width="2" height="10" fill="#2f9e38"/><rect x="360" y="404" width="3" height="31" fill="#1d5e22"/><rect x="360.5" y="404.5" width="2" height="30" fill="#2f9e38"/><rect x="364" y="382" width="3" height="21" fill="#1d5e22"/><rect x="364.5" y="382.5" width="2" height="20" fill="#2f9e38"/><rect x="367" y="363" width="3" height="19" fill="#1d5e22"/><rect x="367.5" y="363.5" width="2" height="18" fill="#2f9e38"/><rect x="370" y="354" width="3" height="9" fill="#1d5e22"/><rect x="370.5" y="354.5" width="2" height="8" fill="#2f9e38"/><rect x="373" y="354" width="3" height="28" fill="#6e1010"/><rect x="373.5" y="354.5" width="2" height="27" fill="#b41c1c"/><rect x="377" y="382" width="3" height="1" fill="#6e1010"/><rect x="380" y="378" width="3" height="5" fill="#1d5e22"/><rect x="380.5" y="378.5" width="2" height="4" fill="#2f9e38"/><rect x="383" y="378" width="3" height="7" fill="#6e1010"/><rect x="383.5" y="378.5" width="2" height="6" fill="#b41c1c"/><rect x="387" y="354" width="3" height="31" fill="#1d5e22"/><rect x="387.5" y="354.5" width="2" height="30" fill="#2f9e38"/><rect x="390" y="354" width="3" height="8" fill="#6e1010"/><rect x="390.5" y="354.5" width="2" height="7" fill="#b41c1c"/><rect x="393" y="362" width="3" height="12" fill="#6e1010"/><rect x="393.5" y="362.5" width="2" height="11" fill="#b41c1c"/><rect x="396" y="373" width="3" height="13" fill="#6e1010"/><rect x="396.5" y="373.5" width="2" height="12" fill="#b41c1c"/><rect x="400" y="386" width="3" height="12" fill="#6e1010"/><rect x="400.5" y="386.5" width="2" height="11" fill="#b41c1c"/><rect x="403" y="377" width="3" height="21" fill="#1d5e22"/><rect x="403.5" y="377.5" width="2" height="20" fill="#2f9e38"/><rect x="406" y="377" width="3" height="21" fill="#6e1010"/><rect x="406.5" y="377.5" width="2" height="20" fill="#b41c1c"/><rect x="410" y="398" width="3" height="10" fill="#6e1010"/><rect x="410.5" y="398.5" width="2" height="9" fill="#b41c1c"/><rect x="413" y="407" width="3" height="1" fill="#6e1010"/><rect x="416" y="406" width="3" height="5" fill="#6e1010"/><rect x="416.5" y="406.5" width="2" height="4" fill="#b41c1c"/><rect x="419" y="384" width="3" height="27" fill="#1d5e22"/><rect x="419.5" y="384.5" width="2" height="26" fill="#2f9e38"/><rect x="423" y="363" width="3" height="21" fill="#1d5e22"/><rect x="423.5" y="363.5" width="2" height="20" fill="#2f9e38"/><rect x="426" y="363" width="3" height="12" fill="#6e1010"/><rect x="426.5" y="363.5" width="2" height="11" fill="#b41c1c"/><rect x="429" y="375" width="3" height="28" fill="#6e1010"/><rect x="429.5" y="375.5" width="2" height="27" fill="#b41c1c"/><rect x="432" y="403" width="3" height="13" fill="#6e1010"/><rect x="432.5" y="403.5" width="2" height="12" fill="#b41c1c"/><rect x="436" y="407" width="3" height="9" fill="#1d5e22"/><rect x="436.5" y="407.5" width="2" height="8" fill="#2f9e38"/><rect x="439" y="407" width="3" height="20" fill="#6e1010"/><rect x="439.5" y="407.5" width="2" height="19" fill="#b41c1c"/><rect x="442" y="424" width="3" height="3" fill="#1d5e22"/><rect x="442.5" y="424.5" width="2" height="2" fill="#2f9e38"/><rect x="446" y="406" width="3" height="19" fill="#1d5e22"/><rect x="446.5" y="406.5" width="2" height="18" fill="#2f9e38"/><rect x="449" y="406" width="3" height="12" fill="#6e1010"/><rect x="449.5" y="406.5" width="2" height="11" fill="#b41c1c"/><rect x="452" y="417" width="3" height="33" fill="#6e1010"/><rect x="452.5" y="417.5" width="2" height="32" fill="#b41c1c"/><rect x="455" y="450" width="3" height="20" fill="#6e1010"/><rect x="455.5" y="450.5" width="2" height="19" fill="#b41c1c"/><rect x="459" y="452" width="3" height="19" fill="#1d5e22"/><rect x="459.5" y="452.5" width="2" height="18" fill="#2f9e38"/><rect x="462" y="450" width="3" height="3" fill="#1d5e22"/><rect x="462.5" y="450.5" width="2" height="2" fill="#2f9e38"/><rect x="465" y="450" width="3" height="11" fill="#6e1010"/><rect x="465.5" y="450.5" width="2" height="10" fill="#b41c1c"/><rect x="469" y="461" width="3" height="8" fill="#6e1010"/><rect x="469.5" y="461.5" width="2" height="7" fill="#b41c1c"/><rect x="472" y="467" width="3" height="1" fill="#6e1010"/><rect x="475" y="467" width="3" height="7" fill="#6e1010"/><rect x="475.5" y="467.5" width="2" height="6" fill="#b41c1c"/><rect x="478" y="467" width="3" height="7" fill="#1d5e22"/><rect x="478.5" y="467.5" width="2" height="6" fill="#2f9e38"/><rect x="482" y="456" width="3" height="11" fill="#1d5e22"/><rect x="482.5" y="456.5" width="2" height="10" fill="#2f9e38"/><rect x="485" y="456" width="3" height="14" fill="#6e1010"/><rect x="485.5" y="456.5" width="2" height="13" fill="#b41c1c"/><rect x="488" y="461" width="3" height="9" fill="#1d5e22"/><rect x="488.5" y="461.5" width="2" height="8" fill="#2f9e38"/><rect x="492" y="454" width="3" height="7" fill="#1d5e22"/><rect x="492.5" y="454.5" width="2" height="6" fill="#2f9e38"/><rect x="495" y="453" width="3" height="1" fill="#1d5e22"/><rect x="498" y="445" width="3" height="9" fill="#1d5e22"/><rect x="498.5" y="445.5" width="2" height="8" fill="#2f9e38"/><rect x="501" y="440" width="3" height="5" fill="#1d5e22"/><rect x="501.5" y="440.5" width="2" height="4" fill="#2f9e38"/><rect x="505" y="440" width="3" height="4" fill="#6e1010"/><rect x="505.5" y="440.5" width="2" height="3" fill="#b41c1c"/><rect x="508" y="444" width="3" height="9" fill="#6e1010"/><rect x="508.5" y="444.5" width="2" height="8" fill="#b41c1c"/><rect x="511" y="452" width="3" height="16" fill="#6e1010"/><rect x="511.5" y="452.5" width="2" height="15" fill="#b41c1c"/><rect x="515" y="462" width="3" height="6" fill="#1d5e22"/><rect x="515.5" y="462.5" width="2" height="5" fill="#2f9e38"/><rect x="518" y="462" width="3" height="13" fill="#6e1010"/><rect x="518.5" y="462.5" width="2" height="12" fill="#b41c1c"/><rect x="521" y="474" width="3" height="1" fill="#6e1010"/><rect x="524" y="474" width="3" height="5" fill="#6e1010"/><rect x="524.5" y="474.5" width="2" height="4" fill="#b41c1c"/><rect x="528" y="479" width="3" height="1" fill="#1d5e22"/><rect x="531" y="476" width="3" height="3" fill="#1d5e22"/><rect x="531.5" y="476.5" width="2" height="2" fill="#2f9e38"/><rect x="534" y="472" width="3" height="4" fill="#1d5e22"/><rect x="534.5" y="472.5" width="2" height="3" fill="#2f9e38"/><rect x="538" y="458" width="3" height="14" fill="#1d5e22"/><rect x="538.5" y="458.5" width="2" height="13" fill="#2f9e38"/><rect x="541" y="458" width="3" height="2" fill="#6e1010"/><rect x="544" y="446" width="3" height="14" fill="#1d5e22"/><rect x="544.5" y="446.5" width="2" height="13" fill="#2f9e38"/><rect x="547" y="446" width="3" height="32" fill="#6e1010"/><rect x="547.5" y="446.5" width="2" height="31" fill="#b41c1c"/><rect x="551" y="469" width="3" height="9" fill="#1d5e22"/><rect x="551.5" y="469.5" width="2" height="8" fill="#2f9e38"/><rect x="554" y="449" width="3" height="20" fill="#1d5e22"/><rect x="554.5" y="449.5" width="2" height="19" fill="#2f9e38"/><rect x="557" y="449" width="3" height="7" fill="#6e1010"/><rect x="557.5" y="449.5" width="2" height="6" fill="#b41c1c"/><rect x="561" y="443" width="3" height="13" fill="#1d5e22"/><rect x="561.5" y="443.5" width="2" height="12" fill="#2f9e38"/><rect x="564" y="444" width="3" height="20" fill="#6e1010"/><rect x="564.5" y="444.5" width="2" height="19" fill="#b41c1c"/><rect x="567" y="453" width="3" height="12" fill="#1d5e22"/><rect x="567.5" y="453.5" width="2" height="11" fill="#2f9e38"/><rect x="570" y="452" width="3" height="2" fill="#1d5e22"/><rect x="574" y="442" width="3" height="10" fill="#1d5e22"/><rect x="574.5" y="442.5" width="2" height="9" fill="#2f9e38"/><rect x="577" y="441" width="3" height="1" fill="#1d5e22"/><rect x="580" y="441" width="3" height="5" fill="#6e1010"/><rect x="580.5" y="441.5" width="2" height="4" fill="#b41c1c"/><rect x="584" y="445" width="3" height="2" fill="#6e1010"/><rect x="587" y="445" width="3" height="16" fill="#6e1010"/><rect x="587.5" y="445.5" width="2" height="15" fill="#b41c1c"/><rect x="590" y="443" width="3" height="18" fill="#1d5e22"/><rect x="590.5" y="443.5" width="2" height="17" fill="#2f9e38"/><rect x="593" y="437" width="3" height="6" fill="#1d5e22"/><rect x="593.5" y="437.5" width="2" height="5" fill="#2f9e38"/><rect x="597" y="437" width="3" height="5" fill="#6e1010"/><rect x="597.5" y="437.5" width="2" height="4" fill="#b41c1c"/><rect x="600" y="441" width="3" height="9" fill="#6e1010"/><rect x="600.5" y="441.5" width="2" height="8" fill="#b41c1c"/><rect x="603" y="449" width="3" height="4" fill="#6e1010"/><rect x="603.5" y="449.5" width="2" height="3" fill="#b41c1c"/><rect x="607" y="452" width="3" height="5" fill="#6e1010"/><rect x="607.5" y="452.5" width="2" height="4" fill="#b41c1c"/><rect x="610" y="450" width="3" height="7" fill="#1d5e22"/><rect x="610.5" y="450.5" width="2" height="6" fill="#2f9e38"/><rect x="613" y="443" width="3" height="7" fill="#1d5e22"/><rect x="613.5" y="443.5" width="2" height="6" fill="#2f9e38"/><rect x="616" y="440" width="3" height="3" fill="#1d5e22"/><rect x="616.5" y="440.5" width="2" height="2" fill="#2f9e38"/><rect x="620" y="434" width="3" height="6" fill="#1d5e22"/><rect x="620.5" y="434.5" width="2" height="5" fill="#2f9e38"/><rect x="623" y="434" width="3" height="18" fill="#6e1010"/><rect x="623.5" y="434.5" width="2" height="17" fill="#b41c1c"/><rect x="626" y="443" width="3" height="10" fill="#1d5e22"/><rect x="626.5" y="443.5" width="2" height="9" fill="#2f9e38"/><rect x="630" y="443" width="3" height="7" fill="#6e1010"/><rect x="630.5" y="443.5" width="2" height="6" fill="#b41c1c"/><rect x="633" y="445" width="3" height="6" fill="#1d5e22"/><rect x="633.5" y="445.5" width="2" height="5" fill="#2f9e38"/><rect x="636" y="445" width="3" height="10" fill="#6e1010"/><rect x="636.5" y="445.5" width="2" height="9" fill="#b41c1c"/><rect x="639" y="429" width="3" height="26" fill="#1d5e22"/><rect x="639.5" y="429.5" width="2" height="25" fill="#2f9e38"/><rect x="643" y="408" width="3" height="21" fill="#1d5e22"/><rect x="643.5" y="408.5" width="2" height="20" fill="#2f9e38"/><rect x="646" y="409" width="3" height="2" fill="#6e1010"/><rect x="649" y="411" width="3" height="16" fill="#6e1010"/><rect x="649.5" y="411.5" width="2" height="15" fill="#b41c1c"/><rect x="653" y="427" width="3" height="6" fill="#6e1010"/><rect x="653.5" y="427.5" width="2" height="5" fill="#b41c1c"/><rect x="656" y="419" width="3" height="14" fill="#1d5e22"/><rect x="656.5" y="419.5" width="2" height="13" fill="#2f9e38"/><rect x="659" y="416" width="3" height="3" fill="#1d5e22"/><rect x="659.5" y="416.5" width="2" height="2" fill="#2f9e38"/><rect x="662" y="416" width="3" height="8" fill="#6e1010"/><rect x="662.5" y="416.5" width="2" height="7" fill="#b41c1c"/><rect x="666" y="423" width="3" height="3" fill="#6e1010"/><rect x="666.5" y="423.5" width="2" height="2" fill="#b41c1c"/><rect x="669" y="414" width="3" height="12" fill="#1d5e22"/><rect x="669.5" y="414.5" width="2" height="11" fill="#2f9e38"/><rect x="672" y="404" width="3" height="10" fill="#1d5e22"/><rect x="672.5" y="404.5" width="2" height="9" fill="#2f9e38"/><rect x="675" y="404" width="3" height="6" fill="#6e1010"/><rect x="675.5" y="404.5" width="2" height="5" fill="#b41c1c"/><rect x="679" y="398" width="3" height="12" fill="#1d5e22"/><rect x="679.5" y="398.5" width="2" height="11" fill="#2f9e38"/><rect x="682" y="384" width="3" height="14" fill="#1d5e22"/><rect x="682.5" y="384.5" width="2" height="13" fill="#2f9e38"/><rect x="685" y="362" width="3" height="22" fill="#1d5e22"/><rect x="685.5" y="362.5" width="2" height="21" fill="#2f9e38"/><rect x="689" y="353" width="3" height="9" fill="#1d5e22"/><rect x="689.5" y="353.5" width="2" height="8" fill="#2f9e38"/><rect x="692" y="332" width="3" height="21" fill="#1d5e22"/><rect x="692.5" y="332.5" width="2" height="20" fill="#2f9e38"/><rect x="695" y="299" width="3" height="33" fill="#1d5e22"/><rect x="695.5" y="299.5" width="2" height="32" fill="#2f9e38"/><rect x="698" y="278" width="3" height="21" fill="#1d5e22"/><rect x="698.5" y="278.5" width="2" height="20" fill="#2f9e38"/><rect x="702" y="278" width="3" height="46" fill="#6e1010"/><rect x="702.5" y="278.5" width="2" height="45" fill="#b41c1c"/><rect x="705" y="315" width="3" height="9" fill="#1d5e22"/><rect x="705.5" y="315.5" width="2" height="8" fill="#2f9e38"/><rect x="708" y="308" width="3" height="7" fill="#1d5e22"/><rect x="708.5" y="308.5" width="2" height="6" fill="#2f9e38"/><rect x="712" y="296" width="3" height="12" fill="#1d5e22"/><rect x="712.5" y="296.5" width="2" height="11" fill="#2f9e38"/><rect x="715" y="296" width="3" height="12" fill="#6e1010"/><rect x="715.5" y="296.5" width="2" height="11" fill="#b41c1c"/><rect x="718" y="307" width="3" height="4" fill="#6e1010"/><rect x="718.5" y="307.5" width="2" height="3" fill="#b41c1c"/><rect x="721" y="301" width="3" height="10" fill="#1d5e22"/><rect x="721.5" y="301.5" width="2" height="9" fill="#2f9e38"/><rect x="725" y="277" width="3" height="24" fill="#1d5e22"/><rect x="725.5" y="277.5" width="2" height="23" fill="#2f9e38"/><rect x="728" y="277" width="3" height="18" fill="#6e1010"/><rect x="728.5" y="277.5" width="2" height="17" fill="#b41c1c"/><rect x="731" y="295" width="3" height="13" fill="#6e1010"/><rect x="731.5" y="295.5" width="2" height="12" fill="#b41c1c"/><rect x="735" y="308" width="3" height="36" fill="#6e1010"/><rect x="735.5" y="308.5" width="2" height="35" fill="#b41c1c"/><rect x="738" y="344" width="3" height="9" fill="#6e1010"/><rect x="738.5" y="344.5" width="2" height="8" fill="#b41c1c"/><rect x="741" y="353" width="3" height="29" fill="#6e1010"/><rect x="741.5" y="353.5" width="2" height="28" fill="#b41c1c"/><rect x="744" y="382" width="3" height="3" fill="#6e1010"/><rect x="744.5" y="382.5" width="2" height="2" fill="#b41c1c"/><rect x="748" y="385" width="3" height="29" fill="#6e1010"/><rect x="748.5" y="385.5" width="2" height="28" fill="#b41c1c"/><rect x="751" y="413" width="3" height="20" fill="#6e1010"/><rect x="751.5" y="413.5" width="2" height="19" fill="#b41c1c"/><rect x="754" y="426" width="3" height="7" fill="#1d5e22"/><rect x="754.5" y="426.5" width="2" height="6" fill="#2f9e38"/><rect x="758" y="422" width="3" height="4" fill="#1d5e22"/><rect x="758.5" y="422.5" width="2" height="3" fill="#2f9e38"/><rect x="761" y="422" width="3" height="1" fill="#1d5e22"/><rect x="764" y="422" width="3" height="6" fill="#6e1010"/><rect x="764.5" y="422.5" width="2" height="5" fill="#b41c1c"/><rect x="767" y="427" width="3" height="7" fill="#6e1010"/><rect x="767.5" y="427.5" width="2" height="6" fill="#b41c1c"/><rect x="771" y="431" width="3" height="3" fill="#1d5e22"/><rect x="771.5" y="431.5" width="2" height="2" fill="#2f9e38"/><rect x="774" y="431" width="3" height="10" fill="#6e1010"/><rect x="774.5" y="431.5" width="2" height="9" fill="#b41c1c"/><rect x="777" y="441" width="3" height="18" fill="#6e1010"/><rect x="777.5" y="441.5" width="2" height="17" fill="#b41c1c"/><rect x="781" y="449" width="3" height="10" fill="#1d5e22"/><rect x="781.5" y="449.5" width="2" height="9" fill="#2f9e38"/><rect x="784" y="449" width="3" height="1" fill="#1d5e22"/><rect x="787" y="429" width="3" height="20" fill="#1d5e22"/><rect x="787.5" y="429.5" width="2" height="19" fill="#2f9e38"/><rect x="790" y="414" width="3" height="15" fill="#1d5e22"/><rect x="790.5" y="414.5" width="2" height="14" fill="#2f9e38"/><rect x="794" y="414" width="3" height="19" fill="#6e1010"/><rect x="794.5" y="414.5" width="2" height="18" fill="#b41c1c"/><rect x="797" y="433" width="3" height="4" fill="#6e1010"/><rect x="797.5" y="433.5" width="2" height="3" fill="#b41c1c"/><rect x="800" y="437" width="3" height="15" fill="#6e1010"/><rect x="800.5" y="437.5" width="2" height="14" fill="#b41c1c"/><rect x="804" y="449" width="3" height="3" fill="#1d5e22"/><rect x="804.5" y="449.5" width="2" height="2" fill="#2f9e38"/><rect x="807" y="449" width="3" height="4" fill="#6e1010"/><rect x="807.5" y="449.5" width="2" height="3" fill="#b41c1c"/><rect x="810" y="453" width="3" height="3" fill="#6e1010"/><rect x="810.5" y="453.5" width="2" height="2" fill="#b41c1c"/><rect x="813" y="453" width="3" height="3" fill="#1d5e22"/><rect x="813.5" y="453.5" width="2" height="2" fill="#2f9e38"/><rect x="817" y="452" width="3" height="1" fill="#6e1010"/><rect x="820" y="451" width="3" height="2" fill="#1d5e22"/><rect x="823" y="443" width="3" height="9" fill="#1d5e22"/><rect x="823.5" y="443.5" width="2" height="8" fill="#2f9e38"/><rect x="827" y="399" width="3" height="44" fill="#1d5e22"/><rect x="827.5" y="399.5" width="2" height="43" fill="#2f9e38"/><rect x="830" y="399" width="3" height="13" fill="#6e1010"/><rect x="830.5" y="399.5" width="2" height="12" fill="#b41c1c"/><rect x="833" y="396" width="3" height="16" fill="#1d5e22"/><rect x="833.5" y="396.5" width="2" height="15" fill="#2f9e38"/><rect x="836" y="352" width="3" height="44" fill="#1d5e22"/><rect x="836.5" y="352.5" width="2" height="43" fill="#2f9e38"/><rect x="840" y="344" width="3" height="8" fill="#1d5e22"/><rect x="840.5" y="344.5" width="2" height="7" fill="#2f9e38"/><rect x="843" y="344" width="3" height="6" fill="#6e1010"/><rect x="843.5" y="344.5" width="2" height="5" fill="#b41c1c"/><rect x="846" y="349" width="3" height="27" fill="#6e1010"/><rect x="846.5" y="349.5" width="2" height="26" fill="#b41c1c"/><rect x="850" y="368" width="3" height="8" fill="#1d5e22"/><rect x="850.5" y="368.5" width="2" height="7" fill="#2f9e38"/><rect x="853" y="339" width="3" height="29" fill="#1d5e22"/><rect x="853.5" y="339.5" width="2" height="28" fill="#2f9e38"/><rect x="856" y="339" width="3" height="13" fill="#6e1010"/><rect x="856.5" y="339.5" width="2" height="12" fill="#b41c1c"/><rect x="859" y="348" width="3" height="4" fill="#1d5e22"/><rect x="859.5" y="348.5" width="2" height="3" fill="#2f9e38"/><rect x="863" y="334" width="3" height="14" fill="#1d5e22"/><rect x="863.5" y="334.5" width="2" height="13" fill="#2f9e38"/><rect x="866" y="334" width="3" height="7" fill="#6e1010"/><rect x="866.5" y="334.5" width="2" height="6" fill="#b41c1c"/><rect x="869" y="341" width="3" height="18" fill="#6e1010"/><rect x="869.5" y="341.5" width="2" height="17" fill="#b41c1c"/><rect x="873" y="358" width="3" height="21" fill="#6e1010"/><rect x="873.5" y="358.5" width="2" height="20" fill="#b41c1c"/><rect x="876" y="379" width="3" height="21" fill="#6e1010"/><rect x="876.5" y="379.5" width="2" height="20" fill="#b41c1c"/><rect x="879" y="400" width="3" height="13" fill="#6e1010"/><rect x="879.5" y="400.5" width="2" height="12" fill="#b41c1c"/><rect x="882" y="410" width="3" height="3" fill="#1d5e22"/><rect x="882.5" y="410.5" width="2" height="2" fill="#2f9e38"/><rect x="886" y="377" width="3" height="33" fill="#1d5e22"/><rect x="886.5" y="377.5" width="2" height="32" fill="#2f9e38"/><rect x="889" y="363" width="3" height="14" fill="#1d5e22"/><rect x="889.5" y="363.5" width="2" height="13" fill="#2f9e38"/><rect x="892" y="357" width="3" height="6" fill="#1d5e22"/><rect x="892.5" y="357.5" width="2" height="5" fill="#2f9e38"/><rect x="896" y="357" width="3" height="3" fill="#6e1010"/><rect x="896.5" y="357.5" width="2" height="2" fill="#b41c1c"/><rect x="899" y="359" width="3" height="35" fill="#6e1010"/><rect x="899.5" y="359.5" width="2" height="34" fill="#b41c1c"/><rect x="902" y="379" width="3" height="15" fill="#1d5e22"/><rect x="902.5" y="379.5" width="2" height="14" fill="#2f9e38"/><rect x="905" y="379" width="3" height="1" fill="#6e1010"/><rect x="909" y="380" width="3" height="10" fill="#6e1010"/><rect x="909.5" y="380.5" width="2" height="9" fill="#b41c1c"/><rect x="912" y="389" width="3" height="2" fill="#6e1010"/><rect x="915" y="389" width="3" height="9" fill="#6e1010"/><rect x="915.5" y="389.5" width="2" height="8" fill="#b41c1c"/><rect x="919" y="387" width="3" height="11" fill="#1d5e22"/><rect x="919.5" y="387.5" width="2" height="10" fill="#2f9e38"/><rect x="922" y="367" width="3" height="20" fill="#1d5e22"/><rect x="922.5" y="367.5" width="2" height="19" fill="#2f9e38"/><rect x="925" y="367" width="3" height="6" fill="#6e1010"/><rect x="925.5" y="367.5" width="2" height="5" fill="#b41c1c"/><rect x="928" y="372" width="3" height="2" fill="#6e1010"/><rect x="932" y="374" width="3" height="2" fill="#6e1010"/><rect x="935" y="376" width="3" height="10" fill="#6e1010"/><rect x="935.5" y="376.5" width="2" height="9" fill="#b41c1c"/><rect x="938" y="368" width="3" height="19" fill="#1d5e22"/><rect x="938.5" y="368.5" width="2" height="18" fill="#2f9e38"/><rect x="941" y="359" width="3" height="9" fill="#1d5e22"/><rect x="941.5" y="359.5" width="2" height="8" fill="#2f9e38"/><rect x="945" y="355" width="3" height="4" fill="#1d5e22"/><rect x="945.5" y="355.5" width="2" height="3" fill="#2f9e38"/><rect x="948" y="355" width="3" height="9" fill="#6e1010"/><rect x="948.5" y="355.5" width="2" height="8" fill="#b41c1c"/><rect x="951" y="364" width="3" height="4" fill="#6e1010"/><rect x="951.5" y="364.5" width="2" height="3" fill="#b41c1c"/><rect x="955" y="360" width="3" height="8" fill="#1d5e22"/><rect x="955.5" y="360.5" width="2" height="7" fill="#2f9e38"/><rect x="958" y="360" width="3" height="40" fill="#6e1010"/><rect x="958.5" y="360.5" width="2" height="39" fill="#b41c1c"/><rect x="961" y="398" width="3" height="2" fill="#1d5e22"/><rect x="964" y="398" width="3" height="11" fill="#6e1010"/><rect x="964.5" y="398.5" width="2" height="10" fill="#b41c1c"/><rect x="968" y="395" width="3" height="14" fill="#1d5e22"/><rect x="968.5" y="395.5" width="2" height="13" fill="#2f9e38"/><rect x="971" y="389" width="3" height="6" fill="#1d5e22"/><rect x="971.5" y="389.5" width="2" height="5" fill="#2f9e38"/><rect x="974" y="380" width="3" height="9" fill="#1d5e22"/><rect x="974.5" y="380.5" width="2" height="8" fill="#2f9e38"/><rect x="978" y="380" width="3" height="11" fill="#6e1010"/><rect x="978.5" y="380.5" width="2" height="10" fill="#b41c1c"/><rect x="981" y="391" width="3" height="8" fill="#6e1010"/><rect x="981.5" y="391.5" width="2" height="7" fill="#b41c1c"/><rect x="984" y="396" width="3" height="3" fill="#1d5e22"/><rect x="984.5" y="396.5" width="2" height="2" fill="#2f9e38"/><rect x="987" y="397" width="3" height="2" fill="#6e1010"/><rect x="991" y="390" width="3" height="9" fill="#1d5e22"/><rect x="991.5" y="390.5" width="2" height="8" fill="#2f9e38"/><rect x="994" y="390" width="3" height="12" fill="#6e1010"/><rect x="994.5" y="390.5" width="2" height="11" fill="#b41c1c"/><rect x="997" y="400" width="3" height="1" fill="#1d5e22"/><rect x="1001" y="398" width="3" height="3" fill="#1d5e22"/><rect x="1001.5" y="398.5" width="2" height="2" fill="#2f9e38"/><rect x="1004" y="398" width="3" height="10" fill="#6e1010"/><rect x="1004.5" y="398.5" width="2" height="9" fill="#b41c1c"/><rect x="1007" y="397" width="3" height="11" fill="#1d5e22"/><rect x="1007.5" y="397.5" width="2" height="10" fill="#2f9e38"/><rect x="1010" y="397" width="3" height="7" fill="#6e1010"/><rect x="1010.5" y="397.5" width="2" height="6" fill="#b41c1c"/><rect x="1014" y="402" width="3" height="8" fill="#6e1010"/><rect x="1014.5" y="402.5" width="2" height="7" fill="#b41c1c"/><rect x="1017" y="391" width="3" height="19" fill="#1d5e22"/><rect x="1017.5" y="391.5" width="2" height="18" fill="#2f9e38"/><rect x="1020" y="381" width="3" height="10" fill="#1d5e22"/><rect x="1020.5" y="381.5" width="2" height="9" fill="#2f9e38"/><rect x="1024" y="374" width="3" height="7" fill="#1d5e22"/><rect x="1024.5" y="374.5" width="2" height="6" fill="#2f9e38"/><rect x="1027" y="373" width="3" height="1" fill="#6e1010"/><rect x="1030" y="373" width="3" height="17" fill="#6e1010"/><rect x="1030.5" y="373.5" width="2" height="16" fill="#b41c1c"/><rect x="1033" y="387" width="3" height="3" fill="#1d5e22"/><rect x="1033.5" y="387.5" width="2" height="2" fill="#2f9e38"/><rect x="1037" y="380" width="3" height="7" fill="#1d5e22"/><rect x="1037.5" y="380.5" width="2" height="6" fill="#2f9e38"/><rect x="1040" y="372" width="3" height="8" fill="#1d5e22"/><rect x="1040.5" y="372.5" width="2" height="7" fill="#2f9e38"/><rect x="1043" y="372" width="3" height="5" fill="#6e1010"/><rect x="1043.5" y="372.5" width="2" height="4" fill="#b41c1c"/><rect x="1047" y="360" width="3" height="17" fill="#1d5e22"/><rect x="1047.5" y="360.5" width="2" height="16" fill="#2f9e38"/><rect x="1050" y="346" width="3" height="13" fill="#1d5e22"/><rect x="1050.5" y="346.5" width="2" height="12" fill="#2f9e38"/><rect x="1053" y="337" width="3" height="9" fill="#1d5e22"/><rect x="1053.5" y="337.5" width="2" height="8" fill="#2f9e38"/><rect x="1056" y="337" width="3" height="5" fill="#6e1010"/><rect x="1056.5" y="337.5" width="2" height="4" fill="#b41c1c"/><rect x="1060" y="319" width="3" height="23" fill="#1d5e22"/><rect x="1060.5" y="319.5" width="2" height="22" fill="#2f9e38"/><rect x="1063" y="309" width="3" height="10" fill="#1d5e22"/><rect x="1063.5" y="309.5" width="2" height="9" fill="#2f9e38"/><rect x="1066" y="309" width="3" height="14" fill="#6e1010"/><rect x="1066.5" y="309.5" width="2" height="13" fill="#b41c1c"/><rect x="1070" y="322" width="3" height="1" fill="#1d5e22"/><rect x="1073" y="312" width="3" height="10" fill="#1d5e22"/><rect x="1073.5" y="312.5" width="2" height="9" fill="#2f9e38"/><rect x="1076" y="260" width="3" height="52" fill="#1d5e22"/><rect x="1076.5" y="260.5" width="2" height="51" fill="#2f9e38"/><rect x="1079" y="260" width="3" height="3" fill="#6e1010"/><rect x="1079.5" y="260.5" width="2" height="2" fill="#b41c1c"/><rect x="1083" y="263" width="3" height="16" fill="#6e1010"/><rect x="1083.5" y="263.5" width="2" height="15" fill="#b41c1c"/><rect x="1086" y="247" width="3" height="32" fill="#1d5e22"/><rect x="1086.5" y="247.5" width="2" height="31" fill="#2f9e38"/><rect x="1089" y="224" width="3" height="23" fill="#1d5e22"/><rect x="1089.5" y="224.5" width="2" height="22" fill="#2f9e38"/><rect x="1093" y="222" width="3" height="2" fill="#1d5e22"/><rect x="1096" y="225" width="3" height="43" fill="#6e1010"/><rect x="1096.5" y="225.5" width="2" height="42" fill="#b41c1c"/><rect x="1099" y="249" width="3" height="19" fill="#1d5e22"/><rect x="1099.5" y="249.5" width="2" height="18" fill="#2f9e38"/><rect x="1102" y="249" width="3" height="14" fill="#6e1010"/><rect x="1102.5" y="249.5" width="2" height="13" fill="#b41c1c"/><rect x="1106" y="245" width="3" height="18" fill="#1d5e22"/><rect x="1106.5" y="245.5" width="2" height="17" fill="#2f9e38"/><rect x="1109" y="225" width="3" height="20" fill="#1d5e22"/><rect x="1109.5" y="225.5" width="2" height="19" fill="#2f9e38"/><rect x="1112" y="225" width="3" height="3" fill="#6e1010"/><rect x="1112.5" y="225.5" width="2" height="2" fill="#b41c1c"/><rect x="1116" y="227" width="3" height="3" fill="#6e1010"/><rect x="1116.5" y="227.5" width="2" height="2" fill="#b41c1c"/><rect x="1119" y="229" width="3" height="11" fill="#6e1010"/><rect x="1119.5" y="229.5" width="2" height="10" fill="#b41c1c"/><rect x="1122" y="202" width="3" height="38" fill="#1d5e22"/><rect x="1122.5" y="202.5" width="2" height="37" fill="#2f9e38"/><rect x="1125" y="198" width="3" height="4" fill="#1d5e22"/><rect x="1125.5" y="198.5" width="2" height="3" fill="#2f9e38"/><rect x="1129" y="198" width="3" height="30" fill="#6e1010"/><rect x="1129.5" y="198.5" width="2" height="29" fill="#b41c1c"/><rect x="1132" y="228" width="3" height="9" fill="#6e1010"/><rect x="1132.5" y="228.5" width="2" height="8" fill="#b41c1c"/><rect x="1135" y="209" width="3" height="28" fill="#1d5e22"/><rect x="1135.5" y="209.5" width="2" height="27" fill="#2f9e38"/><rect x="1139" y="188" width="3" height="21" fill="#1d5e22"/><rect x="1139.5" y="188.5" width="2" height="20" fill="#2f9e38"/><rect x="1142" y="177" width="3" height="11" fill="#1d5e22"/><rect x="1142.5" y="177.5" width="2" height="10" fill="#2f9e38"/><rect x="1145" y="177" width="3" height="1" fill="#1d5e22"/><rect x="1148" y="176" width="3" height="12" fill="#6e1010"/><rect x="1148.5" y="176.5" width="2" height="11" fill="#b41c1c"/><rect x="1152" y="185" width="3" height="3" fill="#1d5e22"/><rect x="1152.5" y="185.5" width="2" height="2" fill="#2f9e38"/><rect x="1155" y="182" width="3" height="3" fill="#1d5e22"/><rect x="1155.5" y="182.5" width="2" height="2" fill="#2f9e38"/><rect x="1158" y="181" width="3" height="1" fill="#1d5e22"/><rect x="1162" y="181" width="3" height="1" fill="#6e1010"/><rect x="1165" y="165" width="3" height="17" fill="#1d5e22"/><rect x="1165.5" y="165.5" width="2" height="16" fill="#2f9e38"/><rect x="1168" y="159" width="3" height="6" fill="#1d5e22"/><rect x="1168.5" y="159.5" width="2" height="5" fill="#2f9e38"/><rect x="1171" y="157" width="3" height="2" fill="#1d5e22"/><rect x="1175" y="157" width="3" height="52" fill="#6e1010"/><rect x="1175.5" y="157.5" width="2" height="51" fill="#b41c1c"/><rect x="1178" y="209" width="3" height="8" fill="#6e1010"/><rect x="1178.5" y="209.5" width="2" height="7" fill="#b41c1c"/><rect x="1181" y="217" width="3" height="23" fill="#6e1010"/><rect x="1181.5" y="217.5" width="2" height="22" fill="#b41c1c"/><rect x="1184" y="240" width="3" height="1" fill="#6e1010"/><rect x="1188" y="240" width="3" height="19" fill="#6e1010"/><rect x="1188.5" y="240.5" width="2" height="18" fill="#b41c1c"/><rect x="1191" y="259" width="3" height="23" fill="#6e1010"/><rect x="1191.5" y="259.5" width="2" height="22" fill="#b41c1c"/><rect x="1194" y="282" width="3" height="32" fill="#6e1010"/><rect x="1194.5" y="282.5" width="2" height="31" fill="#b41c1c"/><rect x="1198" y="304" width="3" height="10" fill="#1d5e22"/><rect x="1198.5" y="304.5" width="2" height="9" fill="#2f9e38"/><rect x="1201" y="304" width="3" height="48" fill="#6e1010"/><rect x="1201.5" y="304.5" width="2" height="47" fill="#b41c1c"/><rect x="1204" y="351" width="3" height="2" fill="#6e1010"/></g>
</g>
<line x1="1223.5" y1="57" x2="1223.5" y2="531" stroke="#666" stroke-width="1"/>
<line x1="8" y1="530.5" x2="1224" y2="530.5" stroke="#666" stroke-width="1"/>
<line x1="1223" y1="76.2" x2="1227" y2="76.2" stroke="#666" stroke-width="1"/>
<text x="1230" y="80.6" font-size="11" fill="#5f5f5f" stroke="#5f5f5f" stroke-width="0.15">71.0000</text>
<line x1="1223" y1="111.2" x2="1227" y2="111.2" stroke="#666" stroke-width="1"/>
<text x="1230" y="115.6" font-size="11" fill="#5f5f5f" stroke="#5f5f5f" stroke-width="0.15">70.5000</text>
<line x1="1223" y1="146.2" x2="1227" y2="146.2" stroke="#666" stroke-width="1"/>
<text x="1230" y="150.6" font-size="11" fill="#5f5f5f" stroke="#5f5f5f" stroke-width="0.15">70.0000</text>
<line x1="1223" y1="181.2" x2="1227" y2="181.2" stroke="#666" stroke-width="1"/>
<text x="1230" y="185.6" font-size="11" fill="#5f5f5f" stroke="#5f5f5f" stroke-width="0.15">69.5000</text>
<line x1="1223" y1="216.2" x2="1227" y2="216.2" stroke="#666" stroke-width="1"/>
<text x="1230" y="220.6" font-size="11" fill="#5f5f5f" stroke="#5f5f5f" stroke-width="0.15">69.0000</text>
<line x1="1223" y1="251.2" x2="1227" y2="251.2" stroke="#666" stroke-width="1"/>
<text x="1230" y="255.6" font-size="11" fill="#5f5f5f" stroke="#5f5f5f" stroke-width="0.15">68.5000</text>
<line x1="1223" y1="286.2" x2="1227" y2="286.2" stroke="#666" stroke-width="1"/>
<text x="1230" y="290.6" font-size="11" fill="#5f5f5f" stroke="#5f5f5f" stroke-width="0.15">68.0000</text>
<line x1="1223" y1="321.2" x2="1227" y2="321.2" stroke="#666" stroke-width="1"/>
<text x="1230" y="325.6" font-size="11" fill="#5f5f5f" stroke="#5f5f5f" stroke-width="0.15">67.5000</text>
<line x1="1223" y1="356.2" x2="1227" y2="356.2" stroke="#666" stroke-width="1"/>
<text x="1230" y="360.6" font-size="11" fill="#5f5f5f" stroke="#5f5f5f" stroke-width="0.15">67.0000</text>
<line x1="1223" y1="391.2" x2="1227" y2="391.2" stroke="#666" stroke-width="1"/>
<text x="1230" y="395.6" font-size="11" fill="#5f5f5f" stroke="#5f5f5f" stroke-width="0.15">66.5000</text>
<line x1="1223" y1="426.2" x2="1227" y2="426.2" stroke="#666" stroke-width="1"/>
<text x="1230" y="430.6" font-size="11" fill="#5f5f5f" stroke="#5f5f5f" stroke-width="0.15">66.0000</text>
<line x1="1223" y1="461.2" x2="1227" y2="461.2" stroke="#666" stroke-width="1"/>
<text x="1230" y="465.6" font-size="11" fill="#5f5f5f" stroke="#5f5f5f" stroke-width="0.15">65.5000</text>
<line x1="1223" y1="496.2" x2="1227" y2="496.2" stroke="#666" stroke-width="1"/>
<text x="1230" y="500.6" font-size="11" fill="#5f5f5f" stroke="#5f5f5f" stroke-width="0.15">65.0000</text>
<line x1="60" y1="530" x2="60" y2="534.5" stroke="#666" stroke-width="1"/>
<text x="60" y="545" font-size="11" fill="#5f5f5f" stroke="#5f5f5f" stroke-width="0.15" text-anchor="middle">Сен</text>
<line x1="139" y1="530" x2="139" y2="534.5" stroke="#666" stroke-width="1"/>
<text x="139" y="545" font-size="11" fill="#5f5f5f" stroke="#5f5f5f" stroke-width="0.15" text-anchor="middle">11</text>
<line x1="218" y1="530" x2="218" y2="534.5" stroke="#666" stroke-width="1"/>
<text x="218" y="545" font-size="11" fill="#5f5f5f" stroke="#5f5f5f" stroke-width="0.15" text-anchor="middle">19</text>
<line x1="323.5" y1="530" x2="323.5" y2="534.5" stroke="#666" stroke-width="1"/>
<text x="323.5" y="545" font-size="11" fill="#5f5f5f" stroke="#5f5f5f" stroke-width="0.15" text-anchor="middle">Окт</text>
<line x1="402" y1="530" x2="402" y2="534.5" stroke="#666" stroke-width="1"/>
<text x="402" y="545" font-size="11" fill="#5f5f5f" stroke="#5f5f5f" stroke-width="0.15" text-anchor="middle">9</text>
<line x1="480" y1="530" x2="480" y2="534.5" stroke="#666" stroke-width="1"/>
<text x="480" y="545" font-size="11" fill="#5f5f5f" stroke="#5f5f5f" stroke-width="0.15" text-anchor="middle">17</text>
<line x1="625" y1="530" x2="625" y2="534.5" stroke="#666" stroke-width="1"/>
<text x="625" y="545" font-size="11" fill="#5f5f5f" stroke="#5f5f5f" stroke-width="0.15" text-anchor="middle">Ноя</text>
<line x1="704" y1="530" x2="704" y2="534.5" stroke="#666" stroke-width="1"/>
<text x="704" y="545" font-size="11" fill="#5f5f5f" stroke="#5f5f5f" stroke-width="0.15" text-anchor="middle">12</text>
<line x1="783" y1="530" x2="783" y2="534.5" stroke="#666" stroke-width="1"/>
<text x="783" y="545" font-size="11" fill="#5f5f5f" stroke="#5f5f5f" stroke-width="0.15" text-anchor="middle">20</text>
<line x1="901" y1="530" x2="901" y2="534.5" stroke="#666" stroke-width="1"/>
<text x="901" y="545" font-size="11" fill="#5f5f5f" stroke="#5f5f5f" stroke-width="0.15" text-anchor="middle">Дек</text>
<line x1="980" y1="530" x2="980" y2="534.5" stroke="#666" stroke-width="1"/>
<text x="980" y="545" font-size="11" fill="#5f5f5f" stroke="#5f5f5f" stroke-width="0.15" text-anchor="middle">11</text>
<line x1="1058.5" y1="530" x2="1058.5" y2="534.5" stroke="#666" stroke-width="1"/>
<text x="1058.5" y="545" font-size="11" fill="#5f5f5f" stroke="#5f5f5f" stroke-width="0.15" text-anchor="middle">19</text>
<line x1="1177" y1="530" x2="1177" y2="534.5" stroke="#666" stroke-width="1"/>
<text x="1177" y="545" font-size="11" font-weight="bold" fill="#555" text-anchor="middle">2019</text>
<rect x="1223" y="97.0" width="50" height="15.5" fill="#f20a0a"/>
<line x1="1223" y1="105.0" x2="1227" y2="105.0" stroke="#fff" stroke-width="1"/>
<text x="1230" y="109.2" font-size="11" fill="#fff" stroke="#fff" stroke-width="0.25">70.5875</text>
<rect x="1223" y="257.5" width="50" height="15.5" fill="#f20a0a"/>
<line x1="1223" y1="265.5" x2="1227" y2="265.5" stroke="#fff" stroke-width="1"/>
<text x="1230" y="269.7" font-size="11" fill="#fff" stroke="#fff" stroke-width="0.25">68.3000</text>
<rect x="1223" y="346.0" width="50" height="15.5" fill="#f20a0a"/>
<line x1="1223" y1="354.0" x2="1227" y2="354.0" stroke="#fff" stroke-width="1"/>
<text x="1230" y="358.2" font-size="11" fill="#fff" stroke="#fff" stroke-width="0.25">67.0354</text>
<rect x="1223" y="487.5" width="50" height="15.5" fill="#f20a0a"/>
<line x1="1223" y1="495.5" x2="1227" y2="495.5" stroke="#fff" stroke-width="1"/>
<text x="1230" y="499.7" font-size="11" fill="#fff" stroke="#fff" stroke-width="0.25">65.0057</text>
<text x="20.3" y="513.8" font-size="20" font-weight="bold" fill="#111" stroke="#111" stroke-width="0.5" letter-spacing="0.3">Investing</text>
<text x="109.5" y="513.8" font-size="14" letter-spacing="-0.5" fill="#666">.com</text>
<rect x="80" y="498.5" width="3" height="3" fill="#f5a623"/>
</svg></body></html>
